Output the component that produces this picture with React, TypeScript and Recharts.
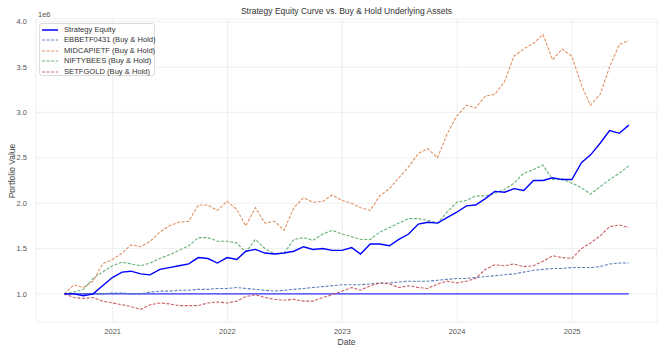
import { CartesianGrid, Line, LineChart, ReferenceLine, XAxis, YAxis } from "recharts";

// month-end closes, values in millions (axis offset label "1e6")
const months = [
  "2020-07", "2020-08", "2020-09", "2020-10", "2020-11", "2020-12",
  "2021-01", "2021-02", "2021-03", "2021-04", "2021-05", "2021-06", "2021-07", "2021-08", "2021-09", "2021-10", "2021-11", "2021-12",
  "2022-01", "2022-02", "2022-03", "2022-04", "2022-05", "2022-06", "2022-07", "2022-08", "2022-09", "2022-10", "2022-11", "2022-12",
  "2023-01", "2023-02", "2023-03", "2023-04", "2023-05", "2023-06", "2023-07", "2023-08", "2023-09", "2023-10", "2023-11", "2023-12",
  "2024-01", "2024-02", "2024-03", "2024-04", "2024-05", "2024-06", "2024-07", "2024-08", "2024-09", "2024-10", "2024-11", "2024-12",
  "2025-01", "2025-02", "2025-03", "2025-04", "2025-05", "2025-06",
];

const strategyEquity = [
  1.0, 1.0, 0.98, 1.0, 1.09, 1.18,
  1.24, 1.25, 1.22, 1.21, 1.27, 1.29, 1.31, 1.33, 1.4, 1.39, 1.34, 1.4,
  1.38, 1.47, 1.49, 1.45, 1.44, 1.45, 1.47, 1.52, 1.49, 1.5, 1.48, 1.48,
  1.51, 1.44, 1.55, 1.55, 1.53, 1.6, 1.66, 1.77, 1.79, 1.78, 1.84, 1.9,
  1.97, 1.98, 2.05, 2.13, 2.12, 2.16, 2.14, 2.25, 2.25, 2.28, 2.26, 2.26,
  2.45, 2.53, 2.66, 2.8, 2.77, 2.86,
];

const ebbetf0431 = [
  1.0, 1.0, 1.0, 1.0, 1.0, 1.01,
  1.01, 1.0, 1.0, 1.02, 1.03, 1.03, 1.04, 1.04, 1.05, 1.05, 1.06, 1.06,
  1.07, 1.06, 1.05, 1.04, 1.03, 1.04, 1.05, 1.06, 1.07, 1.08, 1.09, 1.1,
  1.1, 1.1, 1.11, 1.12, 1.12, 1.13, 1.14, 1.14, 1.14, 1.15, 1.16, 1.17,
  1.17, 1.18, 1.19, 1.2, 1.21, 1.22, 1.24, 1.26, 1.27, 1.28, 1.28, 1.29,
  1.29, 1.29, 1.3, 1.33, 1.34, 1.34,
];

const midcapietf = [
  1.0, 1.1, 1.07, 1.14, 1.33, 1.38,
  1.45, 1.54, 1.52, 1.58, 1.68, 1.75, 1.79, 1.8, 1.98, 1.98, 1.92, 2.02,
  1.93, 1.75, 1.95, 1.78, 1.8, 1.7, 1.95, 2.06, 2.01, 2.02, 2.09, 2.03,
  2.0, 1.95, 1.92, 2.08, 2.16, 2.28, 2.4, 2.55, 2.6, 2.5, 2.76, 2.96,
  3.08, 3.05, 3.18, 3.2, 3.34, 3.62, 3.7, 3.76, 3.86, 3.58, 3.7, 3.62,
  3.3, 3.08, 3.2, 3.5, 3.75, 3.79,
];

const niftybees = [
  1.0, 1.02, 1.05, 1.17, 1.24, 1.31,
  1.35, 1.33, 1.31, 1.34, 1.39, 1.43, 1.48, 1.53, 1.62, 1.62, 1.58, 1.58,
  1.56, 1.46, 1.6, 1.5, 1.44, 1.45, 1.6, 1.62, 1.59, 1.66, 1.7, 1.66,
  1.63, 1.6, 1.6, 1.68, 1.73, 1.78, 1.83, 1.83, 1.81, 1.78, 1.9, 2.01,
  2.03, 2.08, 2.08, 2.11, 2.15, 2.22, 2.33, 2.37, 2.42, 2.26, 2.27, 2.22,
  2.17, 2.1, 2.18, 2.26, 2.33, 2.41,
];

const setfgold = [
  1.0, 0.96, 0.95, 0.96, 0.92, 0.9,
  0.88, 0.86, 0.83, 0.88, 0.9, 0.89, 0.87, 0.87, 0.87, 0.9, 0.91, 0.9,
  0.92, 0.97, 0.99, 0.96, 0.94, 0.93, 0.94, 0.92, 0.92, 0.96, 0.99, 1.03,
  1.07, 1.04, 1.09, 1.12, 1.11, 1.07, 1.09, 1.07, 1.06, 1.11, 1.14, 1.12,
  1.14, 1.17, 1.27, 1.32, 1.31, 1.33, 1.3, 1.31, 1.36, 1.42, 1.4, 1.39,
  1.5, 1.56, 1.64, 1.74, 1.76, 1.73,
];

const initialCapital = 1.0;
const yearTicks = [2021, 2022, 2023, 2024, 2025];
const valueTicks = [1.0, 1.5, 2.0, 2.5, 3.0, 3.5, 4.0];

const series = [
  { key: "strategy", name: "Strategy Equity", color: "#0000ff", dash: undefined, width: 1.4, opacity: 1 },
  { key: "ebbetf", name: "EBBETF0431 (Buy & Hold)", color: "#4c72b0", dash: "3 1.6", width: 1.1, opacity: 0.9 },
  { key: "midcap", name: "MIDCAPIETF (Buy & Hold)", color: "#dd8452", dash: "3 1.6", width: 1.1, opacity: 0.9 },
  { key: "nifty", name: "NIFTYBEES (Buy & Hold)", color: "#55a868", dash: "3 1.6", width: 1.1, opacity: 0.9 },
  { key: "gold", name: "SETFGOLD (Buy & Hold)", color: "#c44e52", dash: "3 1.6", width: 1.1, opacity: 0.9 },
];

const monthEnd = (m: string) => {
  const [y, mo] = m.split("-").map(Number);
  return Date.UTC(y, mo, 0);
};

const data = months.map((m, i) => ({
  t: monthEnd(m),
  strategy: strategyEquity[i],
  ebbetf: ebbetf0431[i],
  midcap: midcapietf[i],
  nifty: niftybees[i],
  gold: setfgold[i],
}));

const tStart = data[0].t;
const tEnd = data[data.length - 1].t;
const pad = (tEnd - tStart) * 0.05;

const font = '"Liberation Sans", Arial, sans-serif';

function LegendBox() {
  return (
    <div
      style={{
        position: "absolute",
        left: 39,
        top: 23,
        width: 116,
        height: 53,
        border: "1px solid #dcdcdc",
        borderRadius: 3,
        background: "rgba(255,255,255,0.85)",
        boxSizing: "border-box",
        textAlign: "left",
      }}
    >
      {series.map((s, i) => (
        <div key={s.key} style={{ position: "absolute", left: 2, top: 0.5 + i * 10.5, height: 10, width: 112 }}>
          <svg width={16} height={10} style={{ position: "absolute", left: 0, top: 0 }}>
            <line x1={0} y1={5} x2={16} y2={5} stroke={s.color} strokeWidth={s.dash ? 1.1 : 1.5} strokeDasharray={s.dash} strokeOpacity={s.opacity} />
          </svg>
          <span style={{ position: "absolute", left: 22, top: 0, lineHeight: "10px", fontSize: 7.6, color: "#333", whiteSpace: "nowrap" }}>
            {s.name}
          </span>
        </div>
      ))}
    </div>
  );
}

export default function App() {
  return (
    <div style={{ position: "fixed", left: 0, top: 0, width: 666, height: 355, background: "#fff", fontFamily: font, textAlign: "left" }}>
      <LineChart width={666} height={355} data={data} margin={{ top: 19, right: 9, bottom: 0, left: 0 }}>
        <CartesianGrid stroke="#ebebeb" strokeWidth={0.8} />
        <XAxis
          dataKey="t"
          type="number"
          domain={[tStart - pad, tEnd + pad]}
          ticks={yearTicks.map((y) => Date.UTC(y, 0, 1))}
          tickFormatter={(v) => String(new Date(v).getUTCFullYear())}
          axisLine={false}
          tickLine={false}
          tickSize={5}
          tickMargin={2}
          height={33}
          tick={{ fontSize: 7.5, fill: "#555", fontFamily: font }}
        />
        <YAxis
          type="number"
          domain={[0.69, 4.03]}
          ticks={valueTicks}
          tickFormatter={(v) => Number(v).toFixed(1)}
          axisLine={false}
          tickLine={false}
          tickSize={6}
          tickMargin={3}
          width={36}
          tick={{ fontSize: 7.5, fill: "#555", fontFamily: font }}
        />
        <ReferenceLine
          segment={[
            { x: tStart, y: initialCapital },
            { x: tEnd, y: initialCapital },
          ]}
          stroke="#0000ff"
          strokeWidth={1.3}
          strokeOpacity={0.8}
        />
        {series.slice(1).map((s) => (
          <Line
            key={s.key}
            dataKey={s.key}
            name={s.name}
            stroke={s.color}
            strokeWidth={s.width}
            strokeDasharray={s.dash}
            strokeOpacity={s.opacity}
            dot={false}
            type="linear"
            isAnimationActive={false}
          />
        ))}
        <Line
          dataKey="strategy"
          name="Strategy Equity"
          stroke="#0000ff"
          strokeWidth={1.4}
          dot={false}
          type="linear"
          isAnimationActive={false}
        />
      </LineChart>

      <div style={{ position: "absolute", left: 36, width: 621, top: 6, textAlign: "center", fontSize: 8.5, color: "#333" }}>
        Strategy Equity Curve vs. Buy &amp; Hold Underlying Assets
      </div>
      <div style={{ position: "absolute", left: 38, top: 10, fontSize: 7.5, color: "#555" }}>1e6</div>
      <div
        style={{
          position: "absolute",
          left: 12,
          top: 171,
          fontSize: 8.5,
          color: "#444",
          whiteSpace: "nowrap",
          transform: "translate(-50%, -50%) rotate(-90deg)",
        }}
      >
        Portfolio Value
      </div>
      <div style={{ position: "absolute", left: 36, width: 621, top: 337, textAlign: "center", fontSize: 8.5, color: "#444" }}>Date</div>

      <LegendBox />
    </div>
  );
}
